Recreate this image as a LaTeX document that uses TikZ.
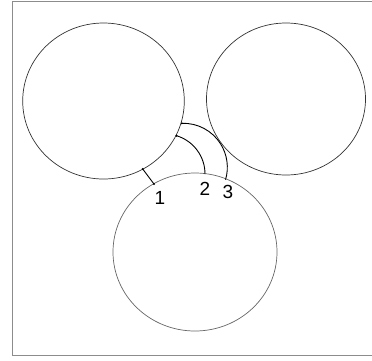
\documentclass[tikz,border=0pt]{standalone}
\usepackage{fontspec}
\setmainfont{Liberation Sans}
\begin{document}
\begin{tikzpicture}[x=1pt,y=-1pt,
  frameline/.style={draw=black!45,line width=0.8pt},
  disc/.style={draw=black!80,line width=0.7pt},
  link/.style={draw=black,line width=0.9pt},
  enddot/.style={fill=black,radius=1.1pt},
  lbl/.style={font=\fontsize{19}{19}\selectfont,inner sep=0pt}]
\useasboundingbox (0,0) rectangle (372,360);
\draw[frameline] (12,355) -- (12,1) -- (372,1);
\draw[frameline] (12,355) -- (372,355);
% circles
\draw[disc] (103.5,101) ellipse[x radius=80.8,y radius=78];
\draw[disc] (286,99) ellipse[x radius=79.5,y radius=76];
\draw[disc,draw=black!60] (195,252) ellipse[x radius=82,y radius=79];
% connectors
\coordinate (a1) at (142.7,169);
\coordinate (b1) at (154,184);
\draw[link] (a1) -- (b1);
\coordinate (a2) at (176.5,135.7);
\draw[link] (a2) arc[start angle=-73.3,end angle=0,radius=40] coordinate (b2);
\coordinate (a3) at (181.8,123.3);
\draw[link] (a3) arc[start angle=-92,end angle=16.4,radius=44] coordinate (b3);
\fill[enddot] (a1) circle;
\fill[enddot] (b1) circle;
\fill[enddot] (a2) circle;
\fill[enddot] (a3) circle;
% labels
\node[lbl] (l1) at (160,198) {1};
\node[lbl] (l2) at (205,189) {2};
\node[lbl] (l3) at (228,192) {3};
\end{tikzpicture}
\end{document}
